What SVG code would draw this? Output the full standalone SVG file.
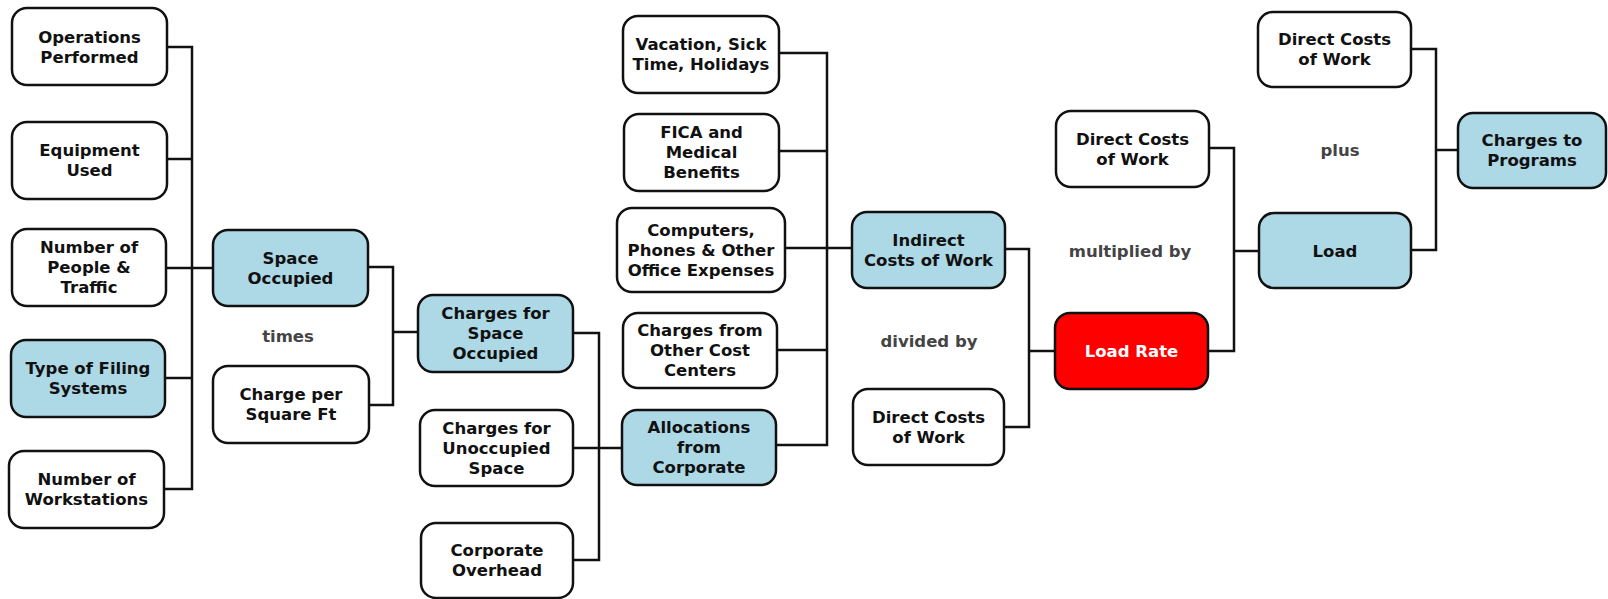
<svg xmlns="http://www.w3.org/2000/svg" width="1608" height="599" viewBox="0 0 1608 599">
<style>
.n{fill:#fff;stroke:#111;stroke-width:2.5}
.b{fill:#add8e6;stroke:#111;stroke-width:2.5}
.r{fill:#ff0000;stroke:#111;stroke-width:2.5}
text{font-family:"DejaVu Sans","Verdana",sans-serif;font-weight:bold;font-size:16.5px;text-anchor:middle;fill:#111}
.w{fill:#fff}
.l{fill:#444}
.c{fill:none;stroke:#111;stroke-width:2.5}
</style>
<rect width="1608" height="599" fill="#fff"/>
<g id="connectors">
<polyline class="c" points="167,47 192,47 192,489 164,489"/>
<line class="c" x1="167" y1="159" x2="192" y2="159"/>
<line class="c" x1="166" y1="268" x2="213" y2="268"/>
<line class="c" x1="165" y1="378" x2="192" y2="378"/>
<polyline class="c" points="368,267 393,267 393,405 369,405"/>
<line class="c" x1="393" y1="332" x2="418" y2="332"/>
<polyline class="c" points="573,333 599,333 599,560 573,560"/>
<line class="c" x1="573" y1="448" x2="622" y2="448"/>
<polyline class="c" points="779,53 827,53 827,445 776,445"/>
<line class="c" x1="779" y1="151" x2="827" y2="151"/>
<line class="c" x1="785" y1="248" x2="852" y2="248"/>
<line class="c" x1="777" y1="350" x2="827" y2="350"/>
<polyline class="c" points="1005,249 1029,249 1029,427 1004,427"/>
<line class="c" x1="1029" y1="351" x2="1055" y2="351"/>
<polyline class="c" points="1209,148 1234,148 1234,351 1208,351"/>
<line class="c" x1="1234" y1="251" x2="1259" y2="251"/>
<polyline class="c" points="1411,49 1436,49 1436,250 1411,250"/>
<line class="c" x1="1436" y1="150" x2="1458" y2="150"/>
</g>
<g id="ops"><rect class="n" x="12" y="8" width="155" height="77" rx="15"/><text x="89.5" y="43">Operations</text><text x="89.5" y="63">Performed</text></g>
<g id="equip"><rect class="n" x="12" y="122" width="155" height="77" rx="15"/><text x="89.5" y="156">Equipment</text><text x="89.5" y="176">Used</text></g>
<g id="people"><rect class="n" x="12" y="229" width="154" height="77" rx="15"/><text x="89" y="253">Number of</text><text x="89" y="273">People &amp;</text><text x="89" y="293">Traffic</text></g>
<g id="filing"><rect class="b" x="11" y="340" width="154" height="77" rx="15"/><text x="88" y="374">Type of Filing</text><text x="88" y="394">Systems</text></g>
<g id="workstations"><rect class="n" x="9" y="451" width="155" height="77" rx="15"/><text x="86.5" y="485">Number of</text><text x="86.5" y="505">Workstations</text></g>
<g id="space"><rect class="b" x="213" y="230" width="155" height="76" rx="15"/><text x="290.5" y="264">Space</text><text x="290.5" y="284">Occupied</text></g>
<g id="sqft"><rect class="n" x="213" y="366" width="156" height="77" rx="15"/><text x="291" y="400">Charge per</text><text x="291" y="420">Square Ft</text></g>
<g id="chargespace"><rect class="b" x="418" y="295" width="155" height="77" rx="15"/><text x="495.5" y="319">Charges for</text><text x="495.5" y="339">Space</text><text x="495.5" y="359">Occupied</text></g>
<g id="unoccupied"><rect class="n" x="420" y="410" width="153" height="76" rx="15"/><text x="496.5" y="434">Charges for</text><text x="496.5" y="454">Unoccupied</text><text x="496.5" y="474">Space</text></g>
<g id="corpoverhead"><rect class="n" x="421" y="523" width="152" height="75" rx="15"/><text x="497" y="556">Corporate</text><text x="497" y="576">Overhead</text></g>
<g id="vacation"><rect class="n" x="623" y="16" width="156" height="77" rx="15"/><text x="701" y="50">Vacation, Sick</text><text x="701" y="70">Time, Holidays</text></g>
<g id="fica"><rect class="n" x="624" y="114" width="155" height="77" rx="15"/><text x="701.5" y="138">FICA and</text><text x="701.5" y="158">Medical</text><text x="701.5" y="178">Benefits</text></g>
<g id="computers"><rect class="n" x="617" y="208" width="168" height="84" rx="15"/><text x="701" y="236">Computers,</text><text x="701" y="256">Phones &amp; Other</text><text x="701" y="276">Office Expenses</text></g>
<g id="othercc"><rect class="n" x="623" y="313" width="154" height="75" rx="15"/><text x="700" y="336">Charges from</text><text x="700" y="356">Other Cost</text><text x="700" y="376">Centers</text></g>
<g id="allocations"><rect class="b" x="622" y="410" width="154" height="75" rx="15"/><text x="699" y="433">Allocations</text><text x="699" y="453">from</text><text x="699" y="473">Corporate</text></g>
<g id="indirect"><rect class="b" x="852" y="212" width="153" height="76" rx="15"/><text x="928.5" y="246">Indirect</text><text x="928.5" y="266">Costs of Work</text></g>
<g id="direct2"><rect class="n" x="853" y="389" width="151" height="76" rx="15"/><text x="928.5" y="423">Direct Costs</text><text x="928.5" y="443">of Work</text></g>
<g id="direct1"><rect class="n" x="1056" y="111" width="153" height="76" rx="15"/><text x="1132.5" y="145">Direct Costs</text><text x="1132.5" y="165">of Work</text></g>
<g id="loadrate"><rect class="r" x="1055" y="313" width="153" height="76" rx="15"/><text class="w" x="1131.5" y="357">Load Rate</text></g>
<g id="load"><rect class="b" x="1259" y="213" width="152" height="75" rx="15"/><text x="1335" y="257">Load</text></g>
<g id="direct0"><rect class="n" x="1258" y="12" width="153" height="75" rx="15"/><text x="1334.5" y="45">Direct Costs</text><text x="1334.5" y="65">of Work</text></g>
<g id="programs"><rect class="b" x="1458" y="113" width="148" height="75" rx="15"/><text x="1532" y="146">Charges to</text><text x="1532" y="166">Programs</text></g>
<g id="labels">
<text class="l" x="288" y="342">times</text>
<text class="l" x="929" y="347">divided by</text>
<text class="l" x="1130" y="257">multiplied by</text>
<text class="l" x="1340" y="156">plus</text>
</g>
</svg>
